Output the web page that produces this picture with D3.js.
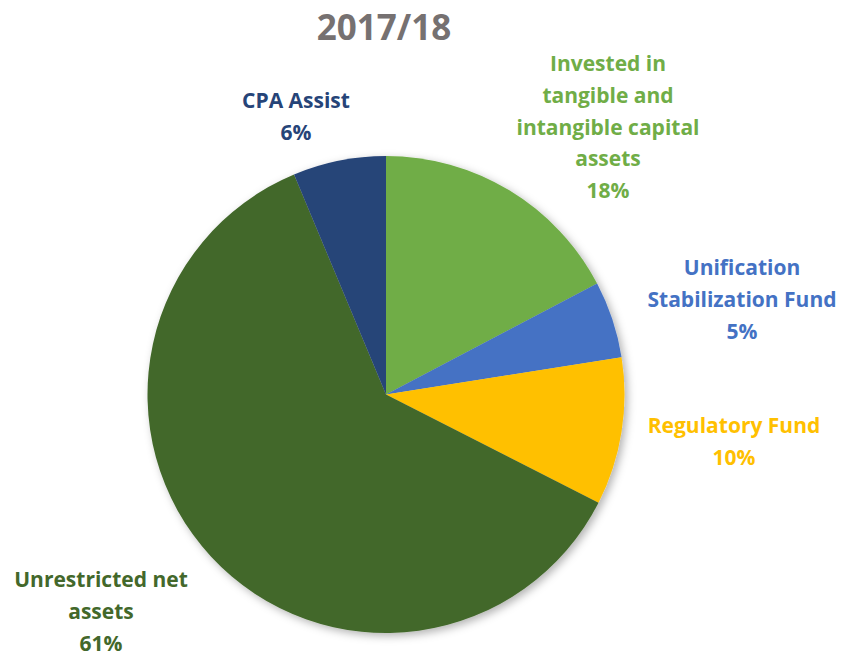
<!DOCTYPE html>
<html>
<head>
<meta charset="utf-8">
<script src="https://cdn.jsdelivr.net/npm/d3@7"></script>
<style>
  body { margin: 0; background: #fff; }
  text { font-family: "Open Sans", Lato, sans-serif; font-weight: bold; }
</style>
</head>
<body>
<div id="chart"></div>
<script>
var width = 855, height = 656;

// data
var categories = ["Invested in tangible and intangible capital assets", "Unification Stabilization Fund", "Regulatory Fund", "Unrestricted net assets", "CPA Assist"];
var values = [17.3, 5.2, 10.0, 61.2, 6.3];
var percentLabels = ["18%", "5%", "10%", "61%", "6%"];
var labelLines = [
  ["Invested in", "tangible and", "intangible capital", "assets"],
  ["Unification", "Stabilization Fund"],
  ["Regulatory Fund"],
  ["Unrestricted net", "assets"],
  ["CPA Assist"]
];
var colors = ["#70AD47", "#4472C4", "#FFC000", "#43682B", "#264478"];
var labelColors = ["#70AD47", "#4472C4", "#FFC000", "#43682B", "#264478"];
// label centre x and first line y
var labelPos = [[608, 71], [742, 275], [734, 433], [101, 587], [296, 108]];

var svg = d3.select("#chart")
  .append("svg")
    .attr("width", width)
    .attr("height", height);

var defs = svg.append("defs");
var shadow = defs.append("filter")
  .attr("id", "shadow")
  .attr("x", "-20%").attr("y", "-20%")
  .attr("width", "140%").attr("height", "140%");
shadow.append("feDropShadow")
  .attr("dx", 3)
  .attr("dy", 3)
  .attr("stdDeviation", 4)
  .attr("flood-color", "#000")
  .attr("flood-opacity", 0.3);

svg.append("text")
  .attr("x", 384)
  .attr("y", 40)
  .attr("text-anchor", "middle")
  .style("font-size", "35px")
  .attr("fill", "#767171")
  .text("2017/18");

var color = d3.scaleOrdinal().domain(categories).range(colors);

var pie = d3.pie().sort(null).value(function(d) { return d.value; });
var arc = d3.arc().innerRadius(0).outerRadius(238.5);

var data = categories.map(function(c, i) { return {name: c, value: values[i]}; });

var g = svg.append("g")
  .attr("transform", "translate(386,394.5)")
  .attr("filter", "url(#shadow)");

g.selectAll("path")
  .data(pie(data))
  .enter().append("path")
    .attr("d", arc)
    .attr("fill", function(d) { return color(d.data.name); });

var lineH = 31.8;
labelLines.forEach(function(lines, i) {
  var t = svg.append("text")
    .attr("text-anchor", "middle")
    .attr("fill", labelColors[i])
    .style("font-size", "21px");
  lines.concat([percentLabels[i]]).forEach(function(l, j) {
    t.append("tspan")
      .attr("x", labelPos[i][0])
      .attr("y", labelPos[i][1] + j * lineH)
      .text(l);
  });
});
</script>
</body>
</html>
